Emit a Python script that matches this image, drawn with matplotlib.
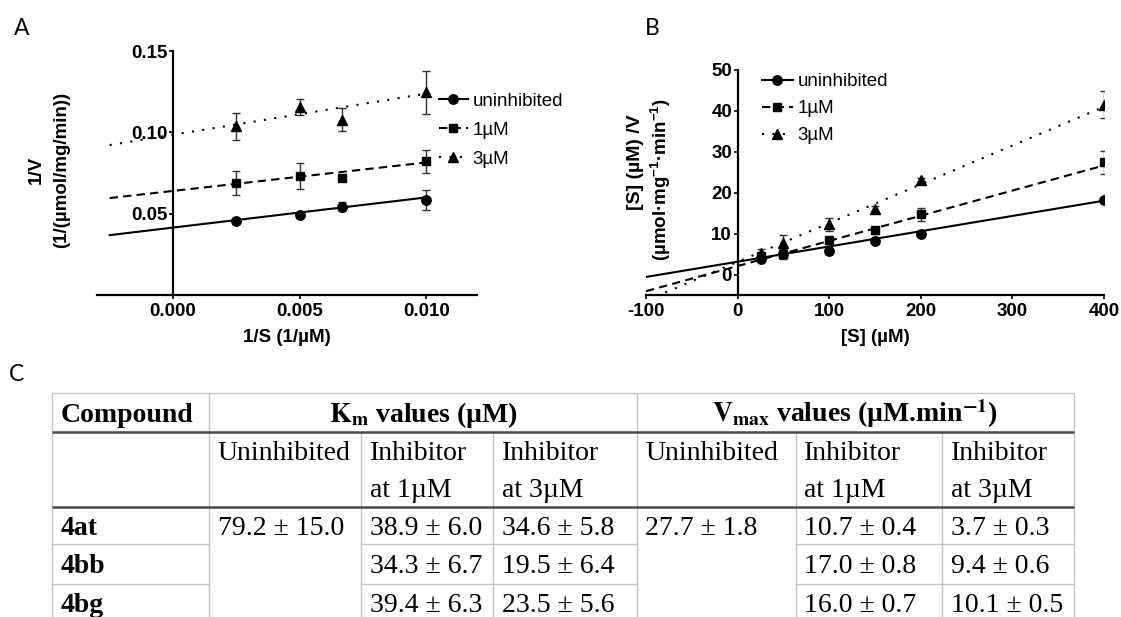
import matplotlib
matplotlib.use('Agg')
import matplotlib.pyplot as plt
from matplotlib.lines import Line2D

W, H = 1121, 617
DPI = 100

plt.rcParams['font.family'] = ['Liberation Sans', 'DejaVu Sans']
plt.rcParams['mathtext.fontset'] = 'custom'
plt.rcParams['mathtext.rm'] = 'Liberation Sans'
plt.rcParams['mathtext.bf'] = 'Liberation Sans:bold'
plt.rcParams['mathtext.it'] = 'Liberation Sans:italic'
plt.rcParams['axes.unicode_minus'] = False

# ---------------- Panel A (Lineweaver-Burk) ----------------
a_x = [0.0025, 0.005, 0.00667, 0.010]
a_uninh = [0.0453, 0.0492, 0.0544, 0.0584]
a_uninh_err = [0.0012, 0.0010, 0.0030, 0.0064]
a_1uM = [0.0688, 0.0729, 0.0718, 0.0822]
a_1uM_err = [0.0072, 0.0080, 0.0020, 0.0071]
a_3uM = [0.1037, 0.1153, 0.1078, 0.1245]
a_3uM_err = [0.0084, 0.0049, 0.0071, 0.0130]
a_fit_x = [-0.0025, 0.010]
a_fit_uninh = [0.0368, 0.0600]
a_fit_1uM = [0.0596, 0.0815]
a_fit_3uM = [0.0922, 0.1238]
a_xticks = [0.000, 0.005, 0.010]
a_yticks = [0.05, 0.10, 0.15]

# ---------------- Panel B (Hanes-Woolf) ----------------
b_x = [25, 50, 100, 150, 200, 400]
b_uninh = [3.83, 4.9, 5.62, 8.06, 9.77, 18.07]
b_uninh_err = [0.3, 0.3, 0.5, 0.4, 0.4, 0.5]
b_1uM = [4.4, 5.05, 8.3, 10.75, 14.66, 27.4]
b_1uM_err = [0.5, 1.2, 0.8, 0.8, 1.6, 2.8]
b_3uM = [5.3, 7.8, 12.3, 16.0, 23.0, 41.4]
b_3uM_err = [0.8, 1.9, 1.6, 0.6, 0.5, 3.3]
b_fit_x = [-100, 400]
b_fit_uninh = [-0.6, 18.0]
b_fit_1uM = [-4.07, 26.6]
b_fit_3uM = [-6.37, 40.9]
b_xticks = [-100, 0, 100, 200, 300, 400]
b_yticks = [0, 10, 20, 30, 40, 50]

series_labels = ['uninhibited', '1\u00b5M', '3\u00b5M']

# ---------------- Panel C (table) ----------------
compounds = ['4at', '4bb', '4bg']
km_uninhibited = '79.2 \u00b1 15.0'
km_1uM = ['38.9 \u00b1 6.0', '34.3 \u00b1 6.7', '39.4 \u00b1 6.3']
km_3uM = ['34.6 \u00b1 5.8', '19.5 \u00b1 6.4', '23.5 \u00b1 5.6']
vmax_uninhibited = '27.7 \u00b1 1.8'
vmax_1uM = ['10.7 \u00b1 0.4', '17.0 \u00b1 0.8', '16.0 \u00b1 0.7']
vmax_3uM = ['3.7 \u00b1 0.3', '9.4 \u00b1 0.6', '10.1 \u00b1 0.5']
sub_headers = [['Uninhibited'], ['Inhibitor', 'at 1\u00b5M'], ['Inhibitor', 'at 3\u00b5M'],
               ['Uninhibited'], ['Inhibitor', 'at 1\u00b5M'], ['Inhibitor', 'at 3\u00b5M']]

fig = plt.figure(figsize=(W / DPI, H / DPI), dpi=DPI)


def fx(x):
    return x / W


def fy(y):
    return 1 - y / H


TICK_FS = 13.5
LINE_W = 1.5
styles = [dict(ls='-', marker='o'),
          dict(ls=(0, (4, 2.5)), marker='s'),
          dict(ls=(0, (1, 4)), marker='^')]
msizes = [6.8, 6.4, 7.2]


def style_axes(ax):
    for s in ['top', 'right']:
        ax.spines[s].set_visible(False)
    ax.spines['left'].set_position(('data', 0))
    for s in ['left', 'bottom']:
        ax.spines[s].set_linewidth(1.6)
    ax.tick_params(axis='both', direction='out', length=3, width=1.2,
                   labelsize=TICK_FS)
    ax.tick_params(axis='y', pad=1)
    ax.tick_params(axis='x', pad=3)
    for lab in ax.get_xticklabels() + ax.get_yticklabels():
        lab.set_fontweight('bold')
    ax.patch.set_visible(False)


def draw_series(ax, x, ys, errs, fit_x, fits):
    for i, (y, e, f) in enumerate(zip(ys, errs, fits)):
        ax.plot(fit_x, f, color='k', lw=LINE_W, ls=styles[i]['ls'], zorder=2)
        ax.errorbar(x, y, yerr=e, fmt='none', ecolor='#303030', elinewidth=1.0,
                    capsize=3.2, capthick=1.0, zorder=3)
        ax.plot(x, y, ls='none', marker=styles[i]['marker'], ms=msizes[i],
                color='k', zorder=4)


def legend_handles():
    return [Line2D([], [], color='k', lw=LINE_W, ls=styles[i]['ls'],
                   marker=styles[i]['marker'], ms=msizes[i]) for i in range(3)]


# ---- Axes A ----
axA = fig.add_axes([fx(97), fy(295), (477 - 97) / W, (295 - 51) / H])
draw_series(axA, a_x, [a_uninh, a_1uM, a_3uM], [a_uninh_err, a_1uM_err, a_3uM_err],
            a_fit_x, [a_fit_uninh, a_fit_1uM, a_fit_3uM])
axA.set_xlim(-0.003, 0.012)
axA.set_ylim(0, 0.15)
axA.set_xticks(a_xticks)
axA.set_xticklabels(['%.3f' % t for t in a_xticks])
axA.set_yticks(a_yticks)
axA.set_yticklabels(['%.2f' % t for t in a_yticks])
style_axes(axA)
axA.legend(legend_handles(), series_labels, loc='upper left',
           bbox_to_anchor=(fx(438.5), fy(92.5)), bbox_transform=fig.transFigure,
           frameon=False, borderpad=0, borderaxespad=0, handlelength=1.55,
           handletextpad=0.25, labelspacing=0.64, fontsize=13.5, numpoints=1)

fig.text(fx(36), fy(170), '1/V', rotation=90, ha='center', va='center',
         fontsize=13.5, fontweight='bold')
fig.text(fx(61.5), fy(170), '(1/(\u00b5mol/mg/min))', rotation=90, ha='center',
         va='center', fontsize=13.5, fontweight='bold')
fig.text(fx(287), fy(338), '1/S (1/\u00b5M)', ha='center', va='center',
         fontsize=13.5, fontweight='bold')

# ---- Axes B ----
axB = fig.add_axes([fx(646), fy(295), (1104 - 646) / W, (295 - 69.5) / H])
draw_series(axB, b_x, [b_uninh, b_1uM, b_3uM], [b_uninh_err, b_1uM_err, b_3uM_err],
            b_fit_x, [b_fit_uninh, b_fit_1uM, b_fit_3uM])
axB.set_xlim(-100, 400)
axB.set_ylim(-5, 50)
axB.set_xticks(b_xticks)
axB.set_yticks(b_yticks)
style_axes(axB)
axB.legend(legend_handles(), series_labels, loc='upper left',
           bbox_to_anchor=(fx(762), fy(73)), bbox_transform=fig.transFigure,
           frameon=False, borderpad=0, borderaxespad=0, handlelength=1.65,
           handletextpad=0.25, labelspacing=0.53, fontsize=13.5, numpoints=1)

fig.text(fx(635), fy(162), '[S] (\u00b5M) /V', rotation=90, ha='center',
         va='center', fontsize=14, fontweight='bold')
fig.text(fx(661), fy(180), '(\u00b5mol\u00b7mg$^{\\mathbf{-1}}$\u00b7min$^{\\mathbf{-1}}$)',
         rotation=90, ha='center', va='center', fontsize=13.5, fontweight='bold')
fig.text(fx(875), fy(338), '[S] (\u00b5M)', ha='center', va='center',
         fontsize=13.5, fontweight='bold')

# ---- Panel letters ----
for letter, x, y in [('A', 13.5, 35), ('B', 645, 35), ('C', 9, 381)]:
    fig.text(fx(x), fy(y), letter, fontsize=16.5, family=['Lato', 'DejaVu Sans'],
             ha='left', va='baseline')

# ---- Table (overlay axes in pixel coordinates) ----
tab = fig.add_axes([0, 0, 1, 1])
tab.set_xlim(0, W)
tab.set_ylim(H, 0)
tab.axis('off')

col_edges = [51.7, 209.3, 361, 493, 636.7, 795.7, 942.3, 1074]
row_edges = [393.3, 432.3, 506.7, 544.3, 584.0, 617]
light = '#c4c4c4'
dark = '#4a4a4a'


def hline(x0, x1, y, color, lw):
    tab.plot([x0, x1], [y, y], color=color, lw=lw, clip_on=False,
             solid_capstyle='butt')


def vline(x, y0, y1, color, lw):
    tab.plot([x, x], [y0, y1], color=color, lw=lw, clip_on=False,
             solid_capstyle='butt')


# outer border
hline(col_edges[0], col_edges[-1], row_edges[0], light, 1.0)
vline(col_edges[0], row_edges[0], row_edges[-1], light, 1.0)
vline(col_edges[-1], row_edges[0], row_edges[-1], light, 1.0)
# header vertical separators
for x in [col_edges[1], col_edges[4]]:
    vline(x, row_edges[0], row_edges[1], light, 1.0)
# body vertical separators
for x in col_edges[1:-1]:
    vline(x, row_edges[1], row_edges[-1], light, 1.0)
# row separators in body (skip merged uninhibited columns)
for y in row_edges[3:5]:
    hline(col_edges[0], col_edges[1], y, light, 1.0)
    hline(col_edges[2], col_edges[4], y, light, 1.0)
    hline(col_edges[5], col_edges[7], y, light, 1.0)
# thick header rules
hline(col_edges[0], col_edges[-1], row_edges[1], dark, 1.8)
hline(col_edges[0], col_edges[-1], row_edges[2], dark, 1.8)

TFS = 20
serif = ['Liberation Serif', 'DejaVu Serif']
pad = 8.5

tab.text(col_edges[0] + pad, 421.7, 'Compound', family=serif, fontsize=TFS,
         fontweight='bold', ha='left', va='baseline')
tab.text((col_edges[1] + col_edges[4]) / 2, 421.7,
         '$\\mathbf{K}_{\\mathbf{m}}$ values (\u00b5M)', family=serif, fontsize=TFS,
         fontweight='bold', ha='center', va='baseline', math_fontfamily='stix')
tab.text((col_edges[4] + col_edges[7]) / 2, 421.7,
         '$\\mathbf{V}_{\\mathbf{max}}$ values (\u00b5M.min$^{\\mathbf{-1}}$)',
         family=serif, fontsize=TFS, fontweight='bold', ha='center',
         va='baseline', math_fontfamily='stix')

sub_baselines = [460, 497.3]
for ci, lines in enumerate(sub_headers):
    for li, t in enumerate(lines):
        tab.text(col_edges[ci + 1] + pad, sub_baselines[li], t, family=serif,
                 fontsize=TFS, ha='left', va='baseline')

row_baselines = [535, 573.3, 611.7]
for ri, comp in enumerate(compounds):
    yb = row_baselines[ri]
    tab.text(col_edges[0] + pad, yb, comp, family=serif, fontsize=TFS,
             fontweight='bold', ha='left', va='baseline')
    tab.text(col_edges[2] + pad, yb, km_1uM[ri], family=serif, fontsize=TFS,
             ha='left', va='baseline')
    tab.text(col_edges[3] + pad, yb, km_3uM[ri], family=serif, fontsize=TFS,
             ha='left', va='baseline')
    tab.text(col_edges[5] + pad, yb, vmax_1uM[ri], family=serif, fontsize=TFS,
             ha='left', va='baseline')
    tab.text(col_edges[6] + pad, yb, vmax_3uM[ri], family=serif, fontsize=TFS,
             ha='left', va='baseline')
tab.text(col_edges[1] + pad, row_baselines[0], km_uninhibited, family=serif,
         fontsize=TFS, ha='left', va='baseline')
tab.text(col_edges[4] + pad, row_baselines[0], vmax_uninhibited, family=serif,
         fontsize=TFS, ha='left', va='baseline')

fig.savefig('out.png', dpi=DPI)
